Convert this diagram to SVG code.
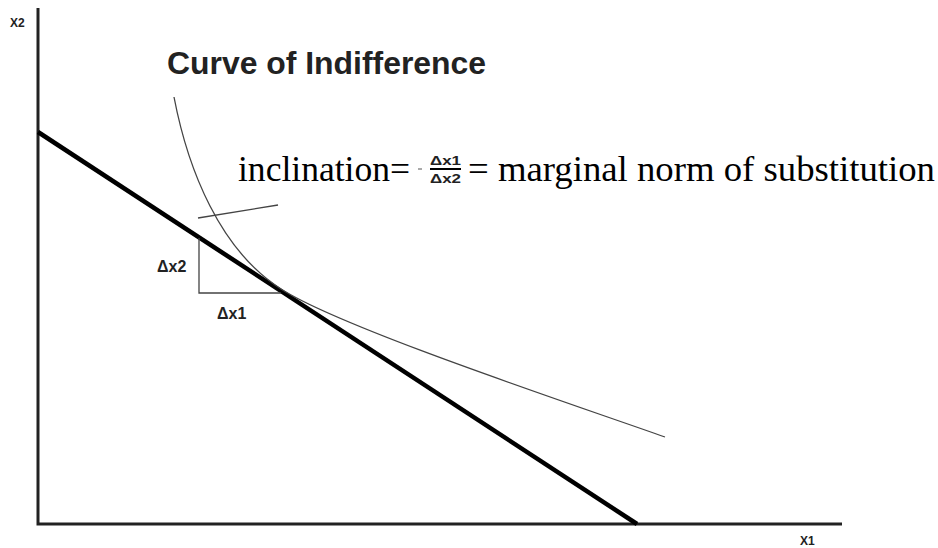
<svg xmlns="http://www.w3.org/2000/svg" width="938" height="548" viewBox="0 0 938 548">
<style>
.ax{stroke:#222;stroke-width:3;fill:none}
.thin{stroke:#444;stroke-width:1.3;fill:none}
.lbl{font-family:"Liberation Sans",Arial,sans-serif;font-weight:bold;fill:#222}
.tm{font-family:"Liberation Serif","Times New Roman",serif;fill:#000}
</style>
<rect width="938" height="548" fill="#fff"/>
<g id="connectors">
<path id="axes" class="ax" d="M38,8 V524 H842"/>
<line id="budget" x1="38" y1="132" x2="637" y2="524" stroke="#000" stroke-width="4.5"/>
<path id="curve" class="thin" d="M174,97 C188,170 220,250 281,289 C340,327 560,400 665,437"/>
<line id="tangent" class="thin" x1="198" y1="218" x2="278" y2="205"/>
<path id="triangle" class="thin" stroke="#555" stroke-width="1.8" d="M199,238 V293 H281"/>
</g>
<g id="axis-labels">
<text class="lbl" x="10" y="27" font-size="12">X2</text>
<text class="lbl" x="800" y="545" font-size="12">X1</text>
</g>
<g id="title">
<text class="lbl" x="167" y="74" font-size="31" fill="#000" textLength="319" lengthAdjust="spacingAndGlyphs">Curve of Indifference</text>
</g>
<g id="delta-labels">
<text class="lbl" x="157" y="272" font-size="16">Δx2</text>
<text class="lbl" x="217" y="319" font-size="16">Δx1</text>
</g>
<g id="formula">
<text class="tm" x="238" y="181" font-size="36" textLength="172" lengthAdjust="spacingAndGlyphs">inclination=</text>
<line x1="418" y1="169" x2="422" y2="169" stroke="#555" stroke-width="1"/>
<text class="lbl" x="430" y="165" font-size="12" textLength="31" lengthAdjust="spacingAndGlyphs">Δx1</text>
<line x1="430" y1="169" x2="461" y2="169" stroke="#000" stroke-width="2"/>
<text class="lbl" x="430" y="183" font-size="12" textLength="31" lengthAdjust="spacingAndGlyphs">Δx2</text>
<text class="tm" x="468" y="181" font-size="36" textLength="467" lengthAdjust="spacingAndGlyphs">= marginal norm of substitution</text>
</g>
</svg>
